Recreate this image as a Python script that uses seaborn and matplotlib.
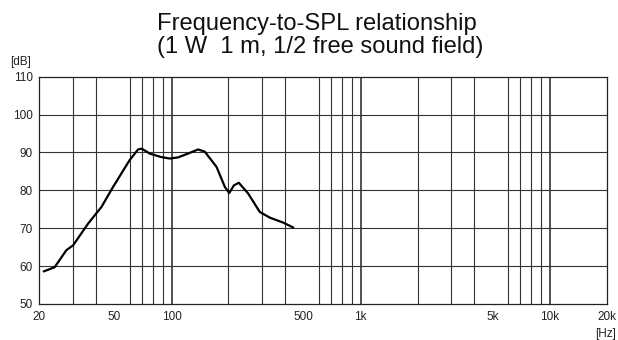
import numpy as np
import pandas as pd
import matplotlib
matplotlib.use('Agg')
import matplotlib.pyplot as plt
from matplotlib.ticker import FixedLocator, LogLocator, NullFormatter
import seaborn as sns

# curve
freq = [21.1, 24.1, 27.8, 30.2, 36.2, 42.6, 49.1, 60.1, 66.6, 69.6, 76.8, 88.0, 97.9, 108.4,
        125.0, 138.3, 150.0, 173.0, 191.5, 202.0, 213.6, 227.0, 254.0, 293.0, 331.0, 389.0, 440.0]
spl = [58.6, 59.7, 64.2, 65.5, 71.2, 75.6, 80.9, 88.0, 90.8, 91.0, 89.7, 88.8, 88.4, 88.7,
       89.9, 90.8, 90.2, 86.2, 80.9, 79.3, 81.3, 82.0, 79.2, 74.3, 72.8, 71.5, 70.2]

x_ticks = [20, 50, 100, 500, 1000, 5000, 10000, 20000]
x_ticklabels = ['20', '50', '100', '500', '1k', '5k', '10k', '20k']
y_ticks = [50, 60, 70, 80, 90, 100, 110]

df = pd.DataFrame({'freq': freq, 'spl': spl})

sns.set_style('white')
plt.rcParams['font.family'] = ['Liberation Sans', 'DejaVu Sans']

fig = plt.figure(figsize=(6.18, 3.40), dpi=100)
ax = fig.add_axes([0.0636, 0.1059, 0.9181, 0.6685])

sns.lineplot(data=df, x='freq', y='spl', ax=ax, color='black', lw=1.6)

ax.set_xscale('log')
ax.set_xlim(20, 20000)
ax.set_ylim(50, 110)

ax.xaxis.set_major_locator(FixedLocator(x_ticks))
ax.set_xticklabels(x_ticklabels)
ax.xaxis.set_minor_locator(LogLocator(base=10, subs=np.arange(2, 10)))
ax.xaxis.set_minor_formatter(NullFormatter())
ax.set_yticks(y_ticks)

# grid: decades and every minor step
ax.grid(False)
for d in [100, 1000, 10000]:
    ax.axvline(d, color='#222222', lw=1.1, zorder=0)
for m in ax.xaxis.get_minorticklocs():
    if 20 < m < 20000:
        ax.axvline(m, color='#333333', lw=0.8, zorder=0)
for v in y_ticks[1:-1]:
    ax.axhline(v, color='#333333', lw=0.8, zorder=0)

ax.tick_params(axis='both', which='both', length=0, labelsize=8.5, colors='#222222')
ax.tick_params(axis='x', pad=5)
ax.tick_params(axis='y', pad=4.5)
for s in ax.spines.values():
    s.set_color('#222222')
    s.set_linewidth(0.9)

ax.set_xlabel('')
ax.set_ylabel('')
fig.text(20.5 / 618, 1 - 62.5 / 340, '[dB]', fontsize=8.5, ha='center', va='center', color='#222222')
fig.text(606 / 618, 1 - 328 / 340, '[Hz]', fontsize=8.5, ha='center', va='top', color='#222222')

fig.text(157 / 618, 1 - 30 / 340, 'Frequency-to-SPL relationship',
         fontsize=17.1, ha='left', va='baseline', color='#111111')
fig.text(157 / 618, 1 - 53.5 / 340, '(1 W  1 m, 1/2 free sound field)',
         fontsize=17.1, ha='left', va='baseline', color='#111111')

plt.savefig('out.png', dpi=100)
